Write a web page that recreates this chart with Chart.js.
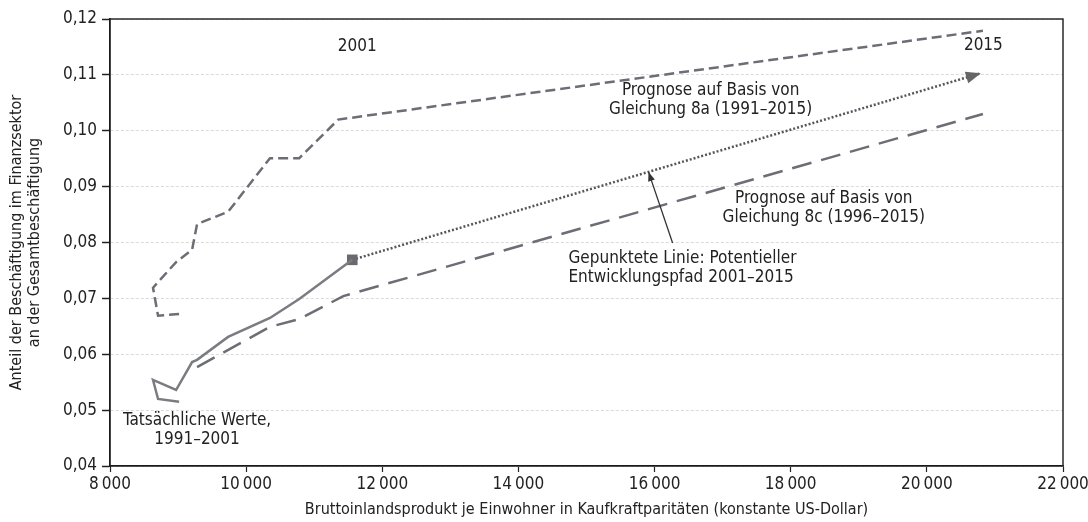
<!DOCTYPE html>
<html>
<head>
<meta charset="utf-8">
<script src="https://cdn.jsdelivr.net/npm/chart.js@4.4.1/dist/chart.umd.min.js"></script>
<style>
  html, body { margin: 0; padding: 0; background: #fff; }
  #wrap { width: 1088px; height: 522px; }
</style>
</head>
<body>
<div id="wrap"><canvas id="chart"></canvas></div>
<script>
// Werte
const actualX = [9015, 8706, 8632, 8971, 9206, 9279, 9735, 10350, 10780, 11559];
const actualY = [0.0515, 0.0520, 0.0554, 0.0536, 0.0586, 0.0590, 0.0631, 0.0665, 0.0699, 0.0769];

const prog8aX = [9015, 8706, 8632, 8971, 9206, 9279, 9735, 10350, 10780, 11353, 20824];
const prog8aY = [0.0672, 0.0669, 0.0719, 0.0765, 0.0787, 0.0833, 0.0855, 0.0951, 0.0951, 0.1020, 0.1179];

const prog8cX = [9279, 10350, 10780, 11427, 20824];
const prog8cY = [0.0577, 0.0649, 0.0663, 0.0704, 0.1030];

const pathX = [11559, 20794];
const pathY = [0.0769, 0.1103];

const xTicks = [8000, 10000, 12000, 14000, 16000, 18000, 20000, 22000];
const xTickLabels = ['8\u2009000', '10\u2009000', '12\u2009000', '14\u2009000', '16\u2009000', '18\u2009000', '20\u2009000', '22\u2009000'];
const yTicks = [0.04, 0.05, 0.06, 0.07, 0.08, 0.09, 0.10, 0.11, 0.12];
const yTickLabels = ['0,04', '0,05', '0,06', '0,07', '0,08', '0,09', '0,10', '0,11', '0,12'];

// Beschriftungen im Diagramm (Datenkoordinaten)
const notes = [
    { x: 11632, y: 0.1150, lines: ['2001'], align: 'center' },
    { x: 20830, y: 0.1152, lines: ['2015'], align: 'center' },
    { x: 16824, y: 0.1055, lines: ['Prognose auf Basis von', 'Gleichung 8a (1991–2015)'], align: 'center' },
    { x: 18485, y: 0.0861, lines: ['Prognose auf Basis von', 'Gleichung 8c (1996–2015)'], align: 'center' },
    { x: 14735, y: 0.0755, lines: ['Gepunktete Linie: Potentieller', 'Entwicklungspfad 2001–2015'], align: 'left' },
    { x: 9279, y: 0.0465, lines: ['Tatsächliche Werte,', '1991–2001'], align: 'center' }
];
const pointerFrom = [16265, 0.0799];
const pointerTo = [15912, 0.0926];

const FONT = "'Liberation Sans Narrow', 'DejaVu Sans Condensed', sans-serif";
const toPoints = (xs, ys) => xs.map((x, i) => ({ x: x, y: ys[i] }));

// Rahmen, Texte und Pfeile
const extras = {
    id: 'extras',
    afterDatasetsDraw(chart) {
        const { ctx, chartArea: a, scales: { x, y } } = chart;
        ctx.save();
        ctx.strokeStyle = '#2a2a2a';
        ctx.lineWidth = 1.5;
        ctx.beginPath();
        ctx.moveTo(a.left, a.top);
        ctx.lineTo(a.right, a.top);
        ctx.lineTo(a.right, a.bottom);
        ctx.stroke();

        // Pfeilspitze am Ende der gepunkteten Linie
        const n = pathX.length;
        const x1 = x.getPixelForValue(pathX[n - 2]), y1 = y.getPixelForValue(pathY[n - 2]);
        const x2 = x.getPixelForValue(pathX[n - 1]), y2 = y.getPixelForValue(pathY[n - 1]);
        const ang = Math.atan2(y2 - y1, x2 - x1);
        ctx.translate(x2, y2);
        ctx.rotate(ang);
        ctx.fillStyle = '#666';
        ctx.beginPath();
        ctx.moveTo(0, 0);
        ctx.lineTo(-15, -6);
        ctx.lineTo(-15, 6);
        ctx.closePath();
        ctx.fill();
        ctx.setTransform(1, 0, 0, 1, 0, 0);

        // Hinweispfeil
        const px1 = x.getPixelForValue(pointerFrom[0]), py1 = y.getPixelForValue(pointerFrom[1]);
        const px2 = x.getPixelForValue(pointerTo[0]), py2 = y.getPixelForValue(pointerTo[1]);
        ctx.strokeStyle = '#333';
        ctx.lineWidth = 1.3;
        ctx.beginPath();
        ctx.moveTo(px1, py1);
        ctx.lineTo(px2, py2);
        ctx.stroke();
        const a2 = Math.atan2(py2 - py1, px2 - px1);
        ctx.translate(px2, py2);
        ctx.rotate(a2);
        ctx.fillStyle = '#333';
        ctx.beginPath();
        ctx.moveTo(0, 0);
        ctx.lineTo(-9, -3.5);
        ctx.lineTo(-9, 3.5);
        ctx.closePath();
        ctx.fill();
        ctx.setTransform(1, 0, 0, 1, 0, 0);

        // Texte
        ctx.fillStyle = '#222';
        ctx.font = '17px ' + FONT;
        ctx.textBaseline = 'middle';
        notes.forEach(nt => {
            const cx = x.getPixelForValue(nt.x);
            const cy = y.getPixelForValue(nt.y);
            ctx.textAlign = nt.align;
            const lh = 19;
            const top = cy - (nt.lines.length - 1) * lh / 2;
            nt.lines.forEach((t, i) => ctx.fillText(t, cx, top + i * lh));
        });
        ctx.restore();
    }
};

new Chart(document.getElementById('chart'), {
    type: 'scatter',
    data: {
        datasets: [
            {
                label: 'Tatsächliche Werte',
                data: toPoints(actualX, actualY),
                showLine: true,
                borderColor: '#7b7c82',
                borderWidth: 2.5,
                pointRadius: 0
            },
            {
                label: 'Gleichung 8a',
                data: toPoints(prog8aX, prog8aY),
                showLine: true,
                borderColor: '#6c6d75',
                borderWidth: 2.5,
                borderDash: [10, 5],
                pointRadius: 0
            },
            {
                label: 'Gleichung 8c',
                data: toPoints(prog8cX, prog8cY),
                showLine: true,
                borderColor: '#6c6d75',
                borderWidth: 2.5,
                borderDash: [20, 10],
                pointRadius: 0
            },
            {
                label: 'Entwicklungspfad',
                data: toPoints(pathX, pathY),
                showLine: true,
                borderColor: '#55565c',
                borderWidth: 2.5,
                borderDash: [2, 2],
                pointStyle: 'rect',
                pointRadius: [7.5, 0],
                pointBackgroundColor: '#6a6a6e',
                pointBorderWidth: 0
            }
        ]
    },
    options: {
        responsive: true,
        maintainAspectRatio: false,
        animation: false,
        layout: { padding: { left: 0, top: 19, right: 25, bottom: 0 } },
        plugins: { legend: { display: false }, tooltip: { enabled: false } },
        scales: {
            x: {
                type: 'linear',
                min: 8000,
                max: 22000,
                afterFit: s => { s.height = 56; s.paddingRight = 20; s.paddingLeft = 0; },
                afterBuildTicks: s => { s.ticks = xTicks.map(v => ({ value: v })); },
                ticks: {
                    color: '#222',
                    font: { family: FONT, size: 17 },
                    padding: 2,
                    maxRotation: 0,
                    callback: v => xTickLabels[xTicks.indexOf(v)]
                },
                grid: { drawOnChartArea: false, tickLength: 6, tickColor: '#222', tickWidth: 1.2 },
                border: { color: '#1a1a1a', width: 1.8 },
                title: {
                    display: true,
                    text: 'Bruttoinlandsprodukt je Einwohner in Kaufkraftparitäten (konstante US-Dollar)',
                    color: '#222',
                    font: { family: FONT, size: 16 },
                    padding: { top: 0, bottom: 3 }
                }
            },
            y: {
                type: 'linear',
                min: 0.04,
                max: 0.12,
                afterFit: s => { s.width = 110; },
                afterBuildTicks: s => { s.ticks = yTicks.map(v => ({ value: v })); },
                ticks: {
                    color: '#222',
                    font: { family: FONT, size: 17 },
                    padding: 5,
                    callback: v => yTickLabels[yTicks.findIndex(t => Math.abs(t - v) < 1e-9)]
                },
                grid: {
                    color: '#dadada',
                    lineWidth: 1,
                    tickLength: 8,
                    tickColor: '#222',
                    tickWidth: 1.5,
                    tickBorderDash: []
                },
                border: { color: '#1a1a1a', width: 1.8, dash: [3, 2] },
                title: {
                    display: true,
                    text: ['Anteil der Beschäftigung im Finanzsektor', 'an der Gesamtbeschäftigung'],
                    color: '#222',
                    font: { family: FONT, size: 16, lineHeight: 1.1 },
                    padding: { top: 8, bottom: 0 }
                }
            }
        }
    },
    plugins: [extras]
});
</script>
</body>
</html>
